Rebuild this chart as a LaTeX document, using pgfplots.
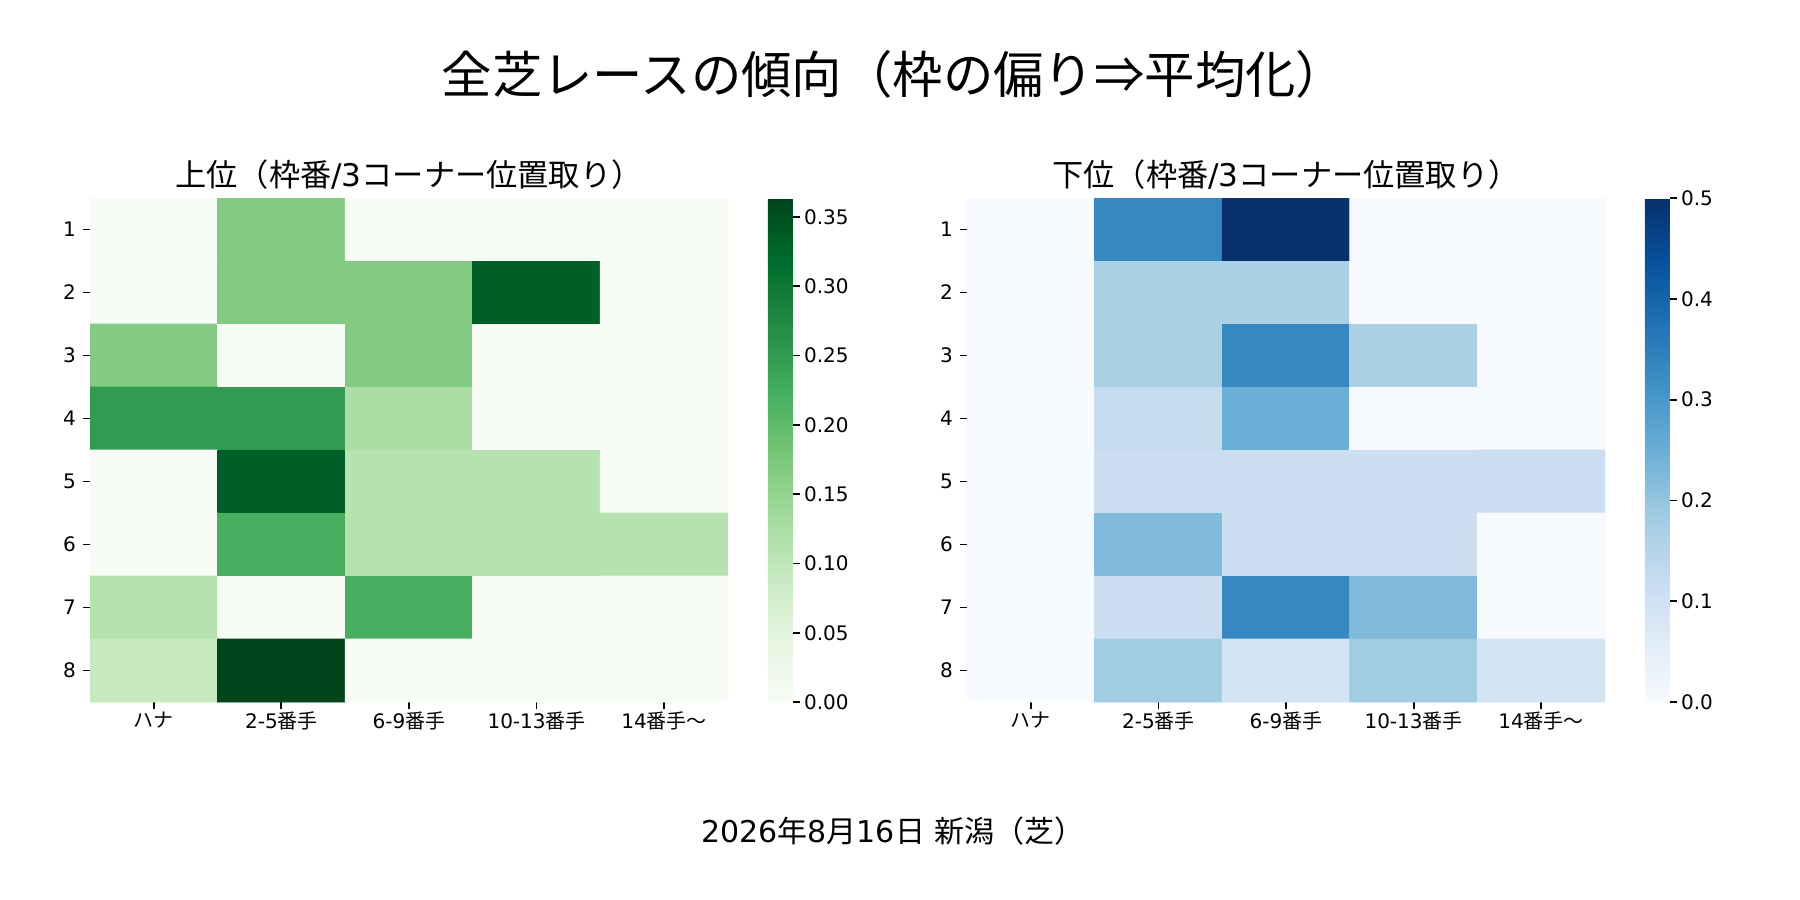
\documentclass[border=0pt]{standalone}
\usepackage{fontspec}
\setmainfont{DejaVu Sans}
\newfontfamily\cjk{Noto Sans CJK JP}
\usepackage{pgfplots}
\usepackage{pgfplotstable}
\pgfplotsset{compat=1.18}
\pgfplotsset{
  colormap={greens}{rgb255=(247,252,245) rgb255=(229,245,224) rgb255=(199,233,192) rgb255=(161,217,155) rgb255=(116,196,118) rgb255=(65,171,93) rgb255=(35,139,69) rgb255=(0,109,44) rgb255=(0,68,27)},
  colormap={blues}{rgb255=(247,251,255) rgb255=(222,235,247) rgb255=(198,219,239) rgb255=(158,202,225) rgb255=(107,174,214) rgb255=(66,146,198) rgb255=(33,113,181) rgb255=(8,81,156) rgb255=(8,48,107)},
}
\pgfplotstableread{
x y c
0 1 0
1 1 0.166667
2 1 0
3 1 0
4 1 0
0 2 0
1 2 0.166667
2 2 0.166667
3 2 0.333333
4 2 0
0 3 0.166667
1 3 0
2 3 0.166667
3 3 0
4 3 0
0 4 0.25
1 4 0.25
2 4 0.125
3 4 0
4 4 0
0 5 0
1 5 0.333333
2 5 0.111111
3 5 0.111111
4 5 0
0 6 0
1 6 0.222222
2 6 0.111111
3 6 0.111111
4 6 0.111111
0 7 0.111111
1 7 0
2 7 0.222222
3 7 0
4 7 0
0 8 0.090909
1 8 0.363636
2 8 0
3 8 0
4 8 0
}\uppertab
\pgfplotstableread{
x y c
0 1 0
1 1 0.333333
2 1 0.5
3 1 0
4 1 0
0 2 0
1 2 0.166667
2 2 0.166667
3 2 0
4 2 0
0 3 0
1 3 0.166667
2 3 0.333333
3 3 0.166667
4 3 0
0 4 0
1 4 0.125
2 4 0.25
3 4 0
4 4 0
0 5 0
1 5 0.111111
2 5 0.111111
3 5 0.111111
4 5 0.111111
0 6 0
1 6 0.222222
2 6 0.111111
3 6 0.111111
4 6 0
0 7 0
1 7 0.111111
2 7 0.333333
3 7 0.222222
4 7 0
0 8 0
1 8 0.181818
2 8 0.090909
3 8 0.181818
4 8 0.090909
}\lowertab
\pgfplotsset{
  hm/.style={
    scale only axis, width=319pt, height=252pt, anchor=south west,
    xmin=-0.5, xmax=4.5, ymin=0.5, ymax=8.5, y dir=reverse,
    xtick={0,...,4},
    xticklabels={{\cjk ハナ},{2-5\cjk 番手},{6-9\cjk 番手},{10-13\cjk 番手},{14\cjk 番手～}},
    ytick={1,...,8},
    xtick pos=left, ytick pos=left,
    tick align=outside, major tick length=3.5pt,
    tick style={black, line width=0.9pt},
    axis line style={draw=none},
    ticklabel style={font=\fontsize{10}{12}\selectfont},
    xticklabel style={yshift=2pt},
    /pgf/number format/assume math mode=true,
    title style={font=\fontsize{15.6}{18}\selectfont, at={(0.5,1)}, anchor=center, yshift=5.5pt},
    point meta=explicit,
    colorbar,
  },
  cb/.style 2 args={
    colorbar style={
      at={(parent axis.north east)}, anchor=north west, xshift=11.46pt,
      scale only axis, width=12.5pt, height=252pt,
      ytick pos=right, yticklabel pos=right,
      tick align=outside, major tick length=3.5pt,
      tick style={black, line width=0.9pt},
      axis line style={draw=none},
      ytick={#1},
      yticklabel style={font=\fontsize{10}{12}\selectfont, xshift=-1.5pt,
        /pgf/number format/fixed, /pgf/number format/fixed zerofill,
        /pgf/number format/precision=#2},
      /pgf/number format/assume math mode=true,
    }
  },
}
\begin{document}
\begin{tikzpicture}
\useasboundingbox (0,0) rectangle (900pt,450pt);
\node[font=\fontsize{25.2}{30}\selectfont\cjk] at (447pt,413pt) {全芝レースの傾向（枠の偏り⇒平均化）};
\node[font=\fontsize{15}{18}\selectfont] at (446.5pt,34.5pt) {2026{\cjk 年}8{\cjk 月}16{\cjk 日} {\cjk 新潟（芝）}};
\begin{axis}[hm, at={(45pt,99pt)},
  title={{\cjk 上位（枠番}/3{\cjk コーナー位置取り）}},
  colormap name=greens, point meta min=0, point meta max=0.363636,
  cb={0,0.05,0.1,0.15,0.2,0.25,0.3,0.35}{2}]
\addplot[matrix plot*, mesh/cols=5] table[x=x, y=y, meta=c] {\uppertab};
\end{axis}
\begin{axis}[hm, at={(483.5pt,99pt)},
  title={{\cjk 下位（枠番}/3{\cjk コーナー位置取り）}},
  colormap name=blues, point meta min=0, point meta max=0.5,
  cb={0,0.1,0.2,0.3,0.4,0.5}{1}]
\addplot[matrix plot*, mesh/cols=5] table[x=x, y=y, meta=c] {\lowertab};
\end{axis}
\end{tikzpicture}
\end{document}
